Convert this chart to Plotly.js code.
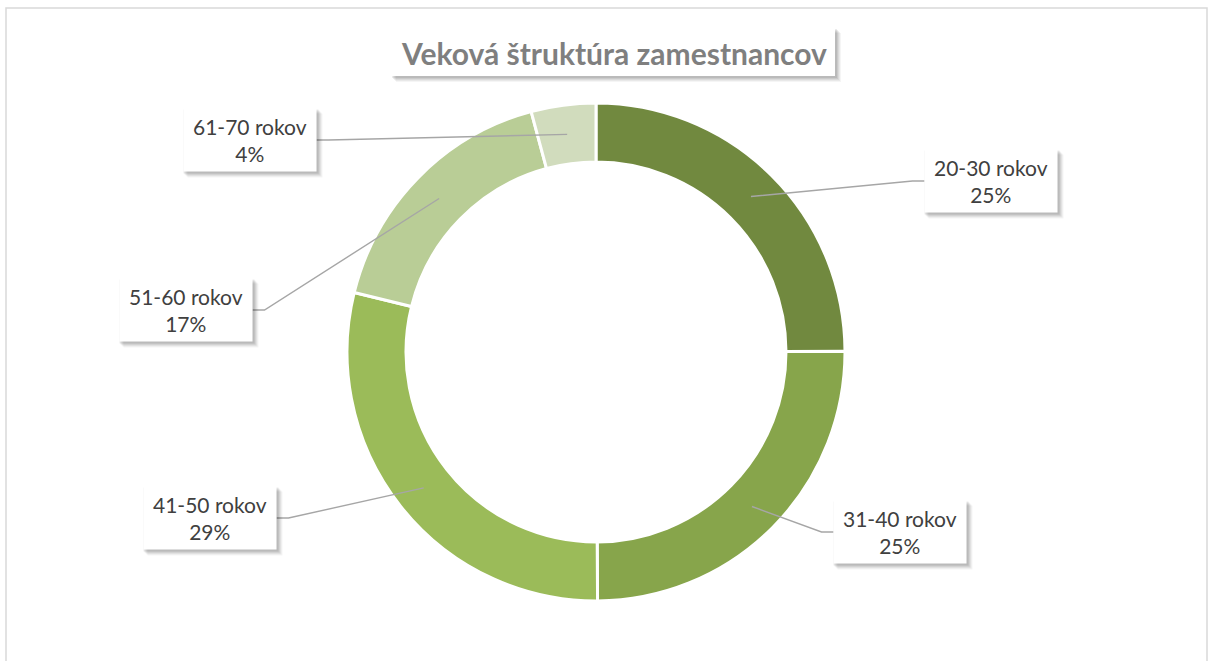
<!DOCTYPE html>
<html>
<head>
<meta charset="utf-8">
<script src="https://cdn.plot.ly/plotly-3.0.1.min.js"></script>
<style>html,body{margin:0;padding:0;background:#fff;}#chart{width:1210px;height:661px;}</style>
</head>
<body>
<div id="chart"></div>
<script>
// Data
const categories = ["20-30 rokov", "31-40 rokov", "41-50 rokov", "51-60 rokov", "61-70 rokov"];
const values = [25, 25, 29, 17, 4.2];
const percentLabels = ["25%", "25%", "29%", "17%", "4%"];
const colors = ["#71893f", "#87a54b", "#9bbb59", "#b9cd96", "#d1dcbd"];
const chartTitle = "Veková štruktúra zamestnancov";

// Layout (pixels)
const W = 1210, H = 661;
const cx = 596, cy = 352, R = 249, hole = 0.763;
const labelBoxes = [ // centers in px
  [991, 181], [900, 532], [210, 518], [186, 310], [250, 140]
];
const boxW = 133, boxH = 63;

const px = x => x / W;
const py = y => 1 - y / H;

const shapes = [];
const annotations = [];

function softShadowBox(x0, y0, x1, y1) {
  const layers = [[6, 0.04], [5, 0.05], [4, 0.06], [3, 0.07], [2, 0.08]];
  layers.forEach(([o, a]) => {
    shapes.push({type: 'rect', xref: 'paper', yref: 'paper',
      x0: px(x0 + o - 2), x1: px(x1 + o), y0: py(y0 + o - 1), y1: py(y1 + o),
      line: {width: 0}, fillcolor: `rgba(0,0,0,${a})`, layer: 'above'});
  });
  shapes.push({type: 'rect', xref: 'paper', yref: 'paper', x0: px(x0), x1: px(x1), y0: py(y0), y1: py(y1),
    line: {width: 0}, fillcolor: '#ffffff', layer: 'above'});
}

// chart border
shapes.push({type: 'rect', xref: 'paper', yref: 'paper', x0: px(6), x1: px(1207), y0: py(8), y1: py(700),
  line: {color: '#d9d9d9', width: 1.5}, fillcolor: 'rgba(0,0,0,0)', layer: 'below'});

// title box
softShadowBox(392, 28, 835, 76);
annotations.push({xref: 'paper', yref: 'paper', x: px(614), y: py(53), text: chartTitle, showarrow: false,
  font: {family: 'Lato, "Open Sans", sans-serif', size: 30, color: '#7f7f7f', weight: 'bold'},
  xanchor: 'center', yanchor: 'middle'});

// leader lines & labels, computed from data
const total = values.reduce((a, b) => a + b, 0);
let cum = 0;
const rMid = R * (1 + hole) / 2;
values.forEach((v, i) => {
  const midFrac = (cum + v / 2) / total;
  cum += v;
  const ang = midFrac * 2 * Math.PI; // clockwise from top
  const ax = cx + rMid * Math.sin(ang);
  const ay = cy - rMid * Math.cos(ang);
  const [bx, by] = labelBoxes[i];
  const right = bx > cx;
  const edge = right ? bx - boxW / 2 : bx + boxW / 2;
  const elbow = right ? edge - 12 : edge + 12;
  shapes.push({type: 'path', xref: 'paper', yref: 'paper',
    path: `M ${px(ax)},${py(ay)} L ${px(elbow)},${py(by)} L ${px(edge)},${py(by)}`,
    line: {color: '#a6a6a6', width: 1.4}, layer: 'above'});
  softShadowBox(bx - boxW / 2, by - boxH / 2, bx + boxW / 2, by + boxH / 2);
  annotations.push({xref: 'paper', yref: 'paper', x: px(bx), y: py(by), showarrow: false,
    text: categories[i] + '<br>' + percentLabels[i], align: 'center',
    font: {family: 'Lato, "Open Sans", sans-serif', size: 21, color: '#404040'},
    xanchor: 'center', yanchor: 'middle'});
});

const trace = {
  type: 'pie',
  labels: categories,
  values: values,
  hole: hole,
  sort: false,
  direction: 'clockwise',
  rotation: 0,
  textinfo: 'none',
  hoverinfo: 'label+percent',
  marker: {colors: colors, line: {color: '#ffffff', width: 3}},
  domain: {x: [px(cx - R), px(cx + R)], y: [py(cy + R), py(cy - R)]},
  showlegend: false
};

const layout = {
  width: W, height: H,
  margin: {l: 0, r: 0, t: 0, b: 0},
  paper_bgcolor: '#ffffff',
  showlegend: false,
  shapes: shapes,
  annotations: annotations
};

Plotly.newPlot('chart', [trace], layout, {displayModeBar: false, staticPlot: true});
</script>
</body>
</html>
